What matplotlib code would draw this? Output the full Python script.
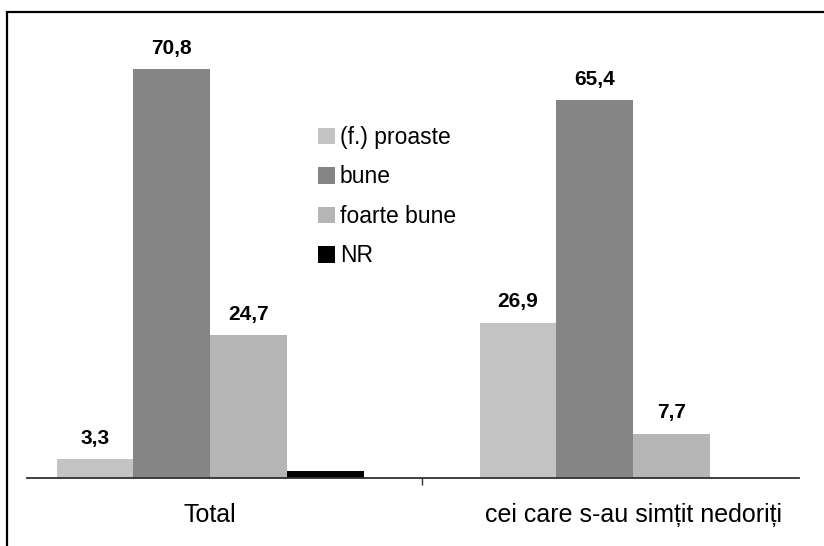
import matplotlib.pyplot as plt
import matplotlib.patches as mpatches
import numpy as np

plt.rcParams['font.family'] = ['Liberation Sans', 'DejaVu Sans']

groups = ["Total", "cei care s-au simțit nedoriți"]
series = ["(f.) proaste", "bune", "foarte bune", "NR"]
colors = ["#c4c4c4", "#858585", "#b5b5b5", "#000000"]

proaste = [3.3, 26.9]
bune = [70.8, 65.4]
foarte_bune = [24.7, 7.7]
nr = [1.2, 0.0]
# only the non-NR bars carry a value label
labelled = [True, True, True, False]

values = [proaste, bune, foarte_bune, nr]

fig = plt.figure(figsize=(8.24, 5.46), dpi=100)
ax = fig.add_axes([0.0328, 0.1245, 0.9369, 0.8022])

x = np.arange(len(groups))
width = 0.1814
for i, (name, vals, col) in enumerate(zip(series, values, colors)):
    pos = x + (i - 1.5) * width
    bars = ax.bar(pos, vals, width, color=col, label=name, linewidth=0)
    if labelled[i]:
        for b, v in zip(bars, vals):
            ax.annotate(f"{v:.1f}".replace(".", ","),
                        (b.get_x() + b.get_width() / 2, v),
                        xytext=(0, 8), textcoords="offset points",
                        ha="center", va="bottom",
                        fontsize=15, fontweight="bold")

ax.set_xlim(-0.433, 1.392)
ax.set_ylim(0, 75.8)

for side in ["top", "right", "left"]:
    ax.spines[side].set_visible(False)
ax.spines["bottom"].set_color("#303030")
ax.spines["bottom"].set_linewidth(1.3)
ax.set_yticks([])

ax.set_xticks(x)
ax.set_xticklabels(groups, fontsize=18)
ax.tick_params(axis="x", which="major", length=0, pad=18)
ax.set_xticks([0.5], minor=True)
ax.tick_params(axis="x", which="minor", length=5, width=1, color="#303030")

ax.legend(loc="upper left", bbox_to_anchor=(0.362, 0.83), frameon=False,
          fontsize=16.5, handlelength=0.75, handleheight=0.75,
          handletextpad=0.2, labelspacing=0.72, borderpad=0)

# outer frame around the chart
fig.patches.append(mpatches.Rectangle((0.0085, -0.1), 1.2, 1.078,
                                      transform=fig.transFigure,
                                      fill=False, edgecolor="black",
                                      linewidth=1.6))

fig.savefig("out.png", dpi=100)
